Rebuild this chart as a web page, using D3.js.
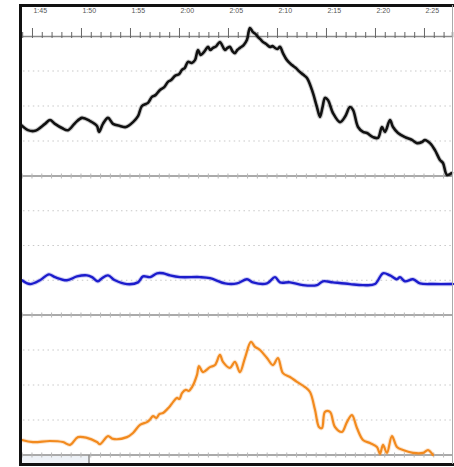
<!DOCTYPE html>
<html>
<head>
<meta charset="utf-8">
<script src="https://cdn.jsdelivr.net/npm/d3@7"></script>
<style>
  html, body { margin: 0; padding: 0; background: #fff; }
  svg { display: block; }
</style>
</head>
<body>
<svg id="chart" width="454" height="467"></svg>
<script>
// Clock time in minutes after midnight (105 = 1:45), value in grid units (0..4 per panel)
const tickLabels = ["1:45", "1:50", "1:55", "2:00", "2:05", "2:10", "2:15", "2:20", "2:25"];
const labelMinutes = [105, 110, 115, 120, 125, 130, 135, 140, 145];

const blackSeries = [
  [103.88, 1.46], [104.59, 1.31], [105.31, 1.29], [106.33, 1.49], [106.84, 1.60], [107.35, 1.49],
  [108.06, 1.37], [108.67, 1.31], [109.39, 1.51], [110.10, 1.66], [110.92, 1.57], [111.63, 1.43],
  [111.84, 1.26], [112.24, 1.49], [112.76, 1.66], [113.27, 1.49], [113.98, 1.43], [114.59, 1.40],
  [115.31, 1.54], [115.82, 1.71], [116.22, 2.00], [116.84, 2.09], [117.24, 2.26], [117.60, 2.31],
  [118.06, 2.46], [118.50, 2.54], [118.88, 2.69], [119.20, 2.74], [119.59, 2.86], [120.00, 2.91],
  [120.31, 3.03], [120.60, 3.09], [120.92, 3.26], [121.30, 3.23], [121.63, 3.31], [121.94, 3.60],
  [122.20, 3.46], [122.45, 3.51], [122.70, 3.60], [122.96, 3.69], [123.20, 3.60], [123.47, 3.66],
  [123.80, 3.71], [124.18, 3.83], [124.45, 3.71], [124.69, 3.60], [124.95, 3.66], [125.20, 3.69],
  [125.45, 3.57], [125.71, 3.51], [125.95, 3.60], [126.22, 3.66], [126.60, 3.74], [126.94, 3.89],
  [127.24, 4.23], [127.55, 4.11], [127.80, 4.06], [128.06, 3.97], [128.30, 3.91], [128.57, 3.83],
  [128.90, 3.77], [129.29, 3.69], [129.55, 3.71], [129.80, 3.66], [130.05, 3.63], [130.31, 3.69],
  [130.61, 3.51], [131.02, 3.31], [131.53, 3.17], [131.90, 3.09], [132.35, 2.97], [132.70, 2.89],
  [133.06, 2.80], [133.57, 2.46], [134.08, 1.97], [134.39, 1.69], [134.65, 1.97], [134.90, 2.23],
  [135.20, 2.17], [135.71, 1.80], [136.43, 1.54], [136.94, 1.69], [137.45, 1.97], [137.76, 1.89],
  [138.27, 1.40], [138.78, 1.26], [139.18, 1.23], [139.80, 1.11], [140.31, 1.09], [140.71, 1.40],
  [141.02, 1.26], [141.53, 1.60], [141.84, 1.40], [142.35, 1.23], [143.06, 1.11], [143.78, 1.03],
  [144.29, 0.94], [144.80, 0.97], [145.10, 1.03], [145.61, 0.94], [146.12, 0.74], [146.63, 0.46],
  [146.94, 0.37], [147.35, 0.03], [147.86, 0.09]
];

const blueSeries = [
  [103.98, 1.00], [104.80, 0.89], [105.82, 1.00], [106.73, 1.17], [107.35, 1.09], [108.57, 1.00],
  [109.59, 1.11], [110.61, 1.14], [111.12, 1.09], [111.73, 0.97], [112.14, 1.06], [112.76, 1.14],
  [113.47, 1.00], [114.69, 0.89], [115.82, 0.94], [116.33, 1.11], [117.04, 1.09], [117.76, 1.20],
  [118.37, 1.20], [119.08, 1.14], [120.10, 1.09], [122.14, 1.09], [123.16, 1.06], [124.69, 0.91],
  [125.92, 0.91], [126.94, 1.03], [127.55, 0.94], [128.98, 0.91], [129.80, 1.09], [130.31, 0.94],
  [131.33, 0.94], [132.65, 0.86], [134.08, 0.86], [134.69, 0.97], [135.71, 0.94], [137.45, 0.89],
  [138.78, 0.86], [140.00, 0.89], [140.82, 1.20], [141.53, 1.14], [142.24, 1.03], [142.55, 1.09],
  [143.06, 0.97], [143.88, 1.03], [144.59, 0.91], [145.92, 0.89], [147.96, 0.89]
];

const orangeSeries = [
  [103.98, 0.43], [105.10, 0.37], [106.84, 0.40], [108.16, 0.37], [108.88, 0.29], [109.69, 0.51],
  [110.61, 0.49], [111.63, 0.37], [111.94, 0.31], [112.76, 0.54], [113.27, 0.46], [114.69, 0.51],
  [115.31, 0.63], [116.02, 0.86], [116.73, 0.94], [117.00, 1.00], [117.35, 1.11], [117.70, 1.06],
  [118.00, 1.17], [118.37, 1.20], [118.80, 1.31], [119.10, 1.40], [119.39, 1.51], [119.80, 1.63],
  [120.05, 1.60], [120.31, 1.77], [120.70, 1.86], [121.00, 1.83], [121.33, 1.94], [121.84, 2.29],
  [122.04, 2.54], [122.45, 2.37], [123.16, 2.51], [123.67, 2.57], [124.18, 2.86], [124.49, 2.66],
  [125.20, 2.49], [125.71, 2.66], [126.22, 2.37], [126.73, 2.77], [127.35, 3.23], [127.76, 3.09],
  [128.27, 3.00], [128.98, 2.77], [129.59, 2.57], [130.10, 2.77], [130.61, 2.34], [131.33, 2.23],
  [132.04, 2.09], [132.86, 1.94], [133.37, 1.80], [133.88, 1.29], [134.29, 0.80], [134.59, 0.77],
  [134.90, 1.23], [135.41, 1.23], [135.92, 0.80], [136.63, 0.66], [137.14, 0.94], [137.65, 1.14],
  [138.16, 0.77], [138.78, 0.43], [139.49, 0.34], [140.20, 0.23], [140.51, 0.03], [140.82, 0.29],
  [141.22, 0.06], [141.73, 0.54], [142.24, 0.23], [142.86, 0.14], [143.88, 0.06], [144.90, 0.06],
  [145.41, 0.14], [145.92, 0.00]
];

const svg = d3.select("#chart");
const W = 454, H = 467;
const left = 21, right = 452;
const axisY = 36;
const panels = [
  { top: 36,  bottom: 176, data: blackSeries,  color: "#111111", width: 2.6 },
  { top: 176, bottom: 315, data: blueSeries,   color: "#1c1ccc", width: 2.4 },
  { top: 315, bottom: 455, data: orangeSeries, color: "#f28a1e", width: 2.2 }
];

const x = d3.scaleLinear().domain([103.88, 147.86]).range([left, right]);
const minutes = d3.range(104, 148);

svg.append("rect").attr("width", W).attr("height", H).attr("fill", "#fff");

// scrollbar strip under the plot
svg.append("rect").attr("x", left).attr("y", 456).attr("width", 68).attr("height", 7).attr("fill", "#eef2f7");
svg.append("line").attr("x1", 89).attr("x2", 89).attr("y1", 455).attr("y2", 463)
  .attr("stroke", "#8a8a8a").attr("stroke-width", 1.5);

// dotted gridlines inside each panel
panels.forEach(p => {
  const y = d3.scaleLinear().domain([0, 4]).range([p.bottom, p.top]);
  p.y = y;
  [1, 2, 3].forEach(v => {
    svg.append("line")
      .attr("x1", left + 2).attr("x2", right)
      .attr("y1", y(v)).attr("y2", y(v))
      .attr("stroke", "#c8c8c8").attr("stroke-width", 1.2)
      .attr("stroke-dasharray", "1.5,3.4");
  });
});

// panel separators with minute ticks
[176, 315, 455].forEach(yy => {
  svg.append("line").attr("x1", left).attr("x2", right).attr("y1", yy).attr("y2", yy)
    .attr("stroke", "#8e8e8e").attr("stroke-width", 1.6);
  svg.selectAll(null).data(minutes).enter().append("line")
    .attr("x1", d => x(d)).attr("x2", d => x(d))
    .attr("y1", yy - 2.5).attr("y2", yy + 2.5)
    .attr("stroke", "#b8b8b8").attr("stroke-width", 1);
});

// time axis along the top
const timeAxis = d3.axisTop(x)
  .tickValues(minutes)
  .tickSize(4)
  .tickFormat("");
const axisG = svg.append("g").attr("transform", `translate(0,${axisY})`).call(timeAxis);
axisG.select(".domain").attr("stroke", "#8a8a8a").attr("stroke-width", 1.6);
axisG.selectAll(".tick line")
  .attr("stroke", "#666")
  .attr("y1", 2)
  .attr("y2", d => d % 5 === 0 ? -8 : -4);

svg.selectAll(null).data(labelMinutes).enter().append("text")
  .attr("x", d => x(d) + 1.5)
  .attr("y", 13)
  .attr("font-family", "Liberation Sans, Arial, sans-serif")
  .attr("font-size", 7)
  .attr("fill", "#555")
  .text((d, i) => tickLabels[i]);

// series lines
panels.forEach(p => {
  const line = d3.line().x(d => x(d[0])).y(d => p.y(d[1])).curve(d3.curveCatmullRom.alpha(0.5));
  svg.append("path").datum(p.data)
    .attr("d", line)
    .attr("fill", "none")
    .attr("stroke", p.color)
    .attr("stroke-opacity", 0.22)
    .attr("stroke-width", p.width + 2)
    .attr("stroke-linejoin", "round");
  svg.append("path").datum(p.data)
    .attr("d", line)
    .attr("fill", "none")
    .attr("stroke", p.color)
    .attr("stroke-width", p.width)
    .attr("stroke-linejoin", "round")
    .attr("stroke-linecap", "round");
});

// frame
svg.append("line").attr("x1", 19).attr("x2", W).attr("y1", 5.5).attr("y2", 5.5)
  .attr("stroke", "#111").attr("stroke-width", 3);
svg.append("line").attr("x1", 20.5).attr("x2", 20.5).attr("y1", 4).attr("y2", 466)
  .attr("stroke", "#111").attr("stroke-width", 3);
svg.append("line").attr("x1", 19).attr("x2", W).attr("y1", 464.5).attr("y2", 464.5)
  .attr("stroke", "#111").attr("stroke-width", 3);
svg.append("line").attr("x1", 452.5).attr("x2", 452.5).attr("y1", 5).attr("y2", 464)
  .attr("stroke", "#aaa").attr("stroke-width", 1);
</script>
</body>
</html>
